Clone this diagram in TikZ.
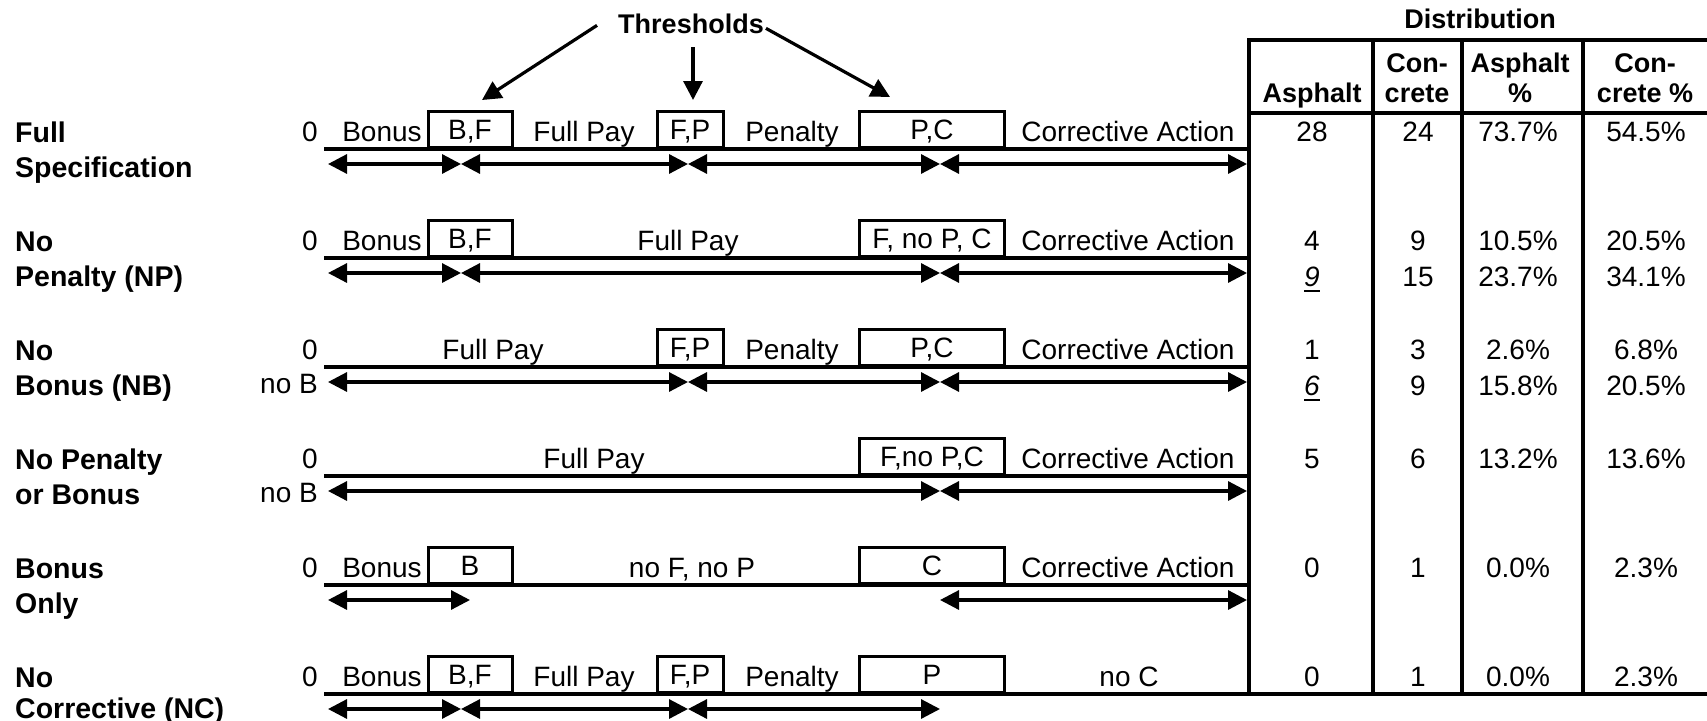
\documentclass[tikz,border=0pt]{standalone}
\usepackage{fontspec}
\setmainfont{Liberation Sans}
\usepackage{tikz}
\usetikzlibrary{calc,arrows.meta}
\newcommand{\ulit}[1]{\setbox0\hbox{\textit{#1}}\rlap{\rule[-6pt]{\wd0}{2.5pt}}\box0}

\begin{document}
\begin{tikzpicture}[x=1pt,y=-1pt,
		txt/.style={font=\fontsize{28}{32}\selectfont, inner sep=0pt, anchor=base},
		head/.style={font=\fontsize{27}{32}\selectfont\bfseries, inner sep=0pt, anchor=base},
		lbl/.style={head, font=\fontsize{28.5}{32}\selectfont\bfseries, anchor=base west},
		tbox/.style={txt, draw, line width=3pt, text height=28pt, text depth=8pt, anchor=south},
		rule/.style={line width=3.2pt, line cap=rect},
		seg/.style={line width=3.2pt, {Triangle[length=19pt,width=19pt]}-{Triangle[length=19pt,width=19pt]}},
		pointer/.style={line width=3.2pt, -{Triangle[length=19pt,width=19pt]}}]
	\useasboundingbox (0,0) rectangle (1707,720);
	% arrow rows: start, B/F, F/P, P/C, end
	\foreach \i/\y in {1/164,2/273,3/382,4/491,5/600,6/709}{
		\coordinate (s\i) at (328,\y);
		\coordinate (b\i) at (461,\y);
		\coordinate (f\i) at (688,\y);
		\coordinate (p\i) at (940,\y);
		\coordinate (e\i) at (1247,\y);
	}
	\coordinate (b5) at (470,600);

	% Full Specification
	\node[lbl] (lab1a) at (15,142) {Full};
	\node[lbl] (lab1b) at (15,177) {Specification};
	\node[txt, anchor=base east] (zero1) at (318,141) {0};
	\node[txt] (bon1) at (382,141) {Bonus};
	\node[tbox, minimum width=84pt] (bf1) at (470,149) {B,F};
	\node[txt] (pay1) at (584,141) {Full Pay};
	\node[tbox, minimum width=66pt] (fp1) at (690,149) {F,P};
	\node[txt] (pen1) at (792,141) {Penalty};
	\node[tbox, minimum width=145pt] (pc1) at (932,149) {P,C};
	\node[txt] (ca1) at (1128,141) {Corrective Action};
	\draw[rule] (326,149) -- (1249,149);
	\draw[seg] (s1) -- (b1);
	\draw[seg] (b1) -- (f1);
	\draw[seg] (f1) -- (p1);
	\draw[seg] (p1) -- (e1);

	% thresholds
	\node[head] (thr) at (691,33) {Thresholds};
	\draw[pointer] ($(thr.west)+(-21,2)$) -- ($(bf1.north)+(12,-10)$);
	\draw[pointer] ($(thr.south)+(2,14)$) -- ($(fp1.north)+(3,-10)$);
	\draw[pointer] ($(thr.east)+(2,5)$) -- ($(pc1.north)+(-42,-13)$);

	% No Penalty
	\node[lbl] (lab2a) at (15,251) {No};
	\node[lbl] (lab2b) at (15,286) {Penalty (NP)};
	\node[txt, anchor=base east] (zero2) at (318,250) {0};
	\node[txt] (bon2) at (382,250) {Bonus};
	\node[tbox, minimum width=84pt] (bf2) at (470,258) {B,F};
	\node[txt] (pay2) at (688,250) {Full Pay};
	\node[tbox, minimum width=145pt] (pc2) at (932,258) {F, no P, C};
	\node[txt] (ca2) at (1128,250) {Corrective Action};
	\draw[rule] (326,258) -- (1249,258);
	\draw[seg] (s2) -- (b2);
	\draw[seg] (b2) -- (p2);
	\draw[seg] (p2) -- (e2);

	% No Bonus
	\node[lbl] (lab3a) at (15,360) {No};
	\node[lbl] (lab3b) at (15,395) {Bonus (NB)};
	\node[txt, anchor=base east] (zero3) at (318,359) {0};
	\node[txt, anchor=base east] (nob3) at (318,393) {no B};
	\node[txt] (pay3) at (493,359) {Full Pay};
	\node[tbox, minimum width=66pt] (fp3) at (690,367) {F,P};
	\node[txt] (pen3) at (792,359) {Penalty};
	\node[tbox, minimum width=145pt] (pc3) at (932,367) {P,C};
	\node[txt] (ca3) at (1128,359) {Corrective Action};
	\draw[rule] (326,367) -- (1249,367);
	\draw[seg] (s3) -- (f3);
	\draw[seg] (f3) -- (p3);
	\draw[seg] (p3) -- (e3);

	% No Penalty or Bonus
	\node[lbl] (lab4a) at (15,469) {No Penalty};
	\node[lbl] (lab4b) at (15,504) {or Bonus};
	\node[txt, anchor=base east] (zero4) at (318,468) {0};
	\node[txt, anchor=base east] (nob4) at (318,502) {no B};
	\node[txt] (pay4) at (594,468) {Full Pay};
	\node[tbox, minimum width=145pt] (pc4) at (932,476) {F,no P,C};
	\node[txt] (ca4) at (1128,468) {Corrective Action};
	\draw[rule] (326,476) -- (1249,476);
	\draw[seg] (s4) -- (p4);
	\draw[seg] (p4) -- (e4);

	% Bonus Only
	\node[lbl] (lab5a) at (15,578) {Bonus};
	\node[lbl] (lab5b) at (15,613) {Only};
	\node[txt, anchor=base east] (zero5) at (318,577) {0};
	\node[txt] (bon5) at (382,577) {Bonus};
	\node[tbox, minimum width=84pt] (bf5) at (470,585) {B};
	\node[txt] (pay5) at (692,577) {no F, no P};
	\node[tbox, minimum width=145pt] (pc5) at (932,585) {C};
	\node[txt] (ca5) at (1128,577) {Corrective Action};
	\draw[rule] (326,585) -- (1249,585);
	\draw[seg] (s5) -- (b5);
	\draw[seg] (p5) -- (e5);

	% No Corrective
	\node[lbl] (lab6a) at (15,687) {No};
	\node[lbl] (lab6b) at (15,718) {Corrective (NC)};
	\node[txt, anchor=base east] (zero6) at (318,686) {0};
	\node[txt] (bon6) at (382,686) {Bonus};
	\node[tbox, minimum width=84pt] (bf6) at (470,694) {B,F};
	\node[txt] (pay6) at (584,686) {Full Pay};
	\node[tbox, minimum width=66pt] (fp6) at (690,694) {F,P};
	\node[txt] (pen6) at (792,686) {Penalty};
	\node[tbox, minimum width=145pt] (pc6) at (932,694) {P};
	\node[txt] (ca6) at (1129,686) {no C};
	\draw[seg] (s6) -- (b6);
	\draw[seg] (b6) -- (f6);
	\draw[seg] (f6) -- (p6);

	% distribution table
	\node[head] (dist) at (1480,28) {Distribution};
	\draw[rule] (1249,40) -- (1707,40);
	\draw[rule] (1249,113) -- (1707,113);
	\draw[rule] (326,694) -- (1707,694);
	\foreach \x in {1249,1373,1462,1583}
		\draw[rule] (\x,40) -- (\x,694);
	\node[head] (h1) at (1312,102) {Asphalt};
	\node[head] (h2a) at (1417,72) {Con-};
	\node[head] (h2b) at (1417,102) {crete};
	\node[head] (h3a) at (1520,72) {Asphalt};
	\node[head] (h3b) at (1520,102) {\%};
	\node[head] (h4a) at (1645,72) {Con-};
	\node[head] (h4b) at (1645,102) {crete \%};
	\foreach \y/\a/\c/\ap/\cp in {141/28/24/73.7/54.5, 250/4/9/10.5/20.5,
		286/\ulit{9}/15/23.7/34.1, 359/1/3/2.6/6.8, 395/\ulit{6}/9/15.8/20.5,
		468/5/6/13.2/13.6, 577/0/1/0.0/2.3, 686/0/1/0.0/2.3}{
		\node[txt] (asp\y) at (1312,\y) {\a};
		\node[txt] (con\y) at (1418,\y) {\c};
		\node[txt] (aspp\y) at (1518,\y) {\ap\%};
		\node[txt] (conp\y) at (1646,\y) {\cp\%};
	}
\end{tikzpicture}
\end{document}
